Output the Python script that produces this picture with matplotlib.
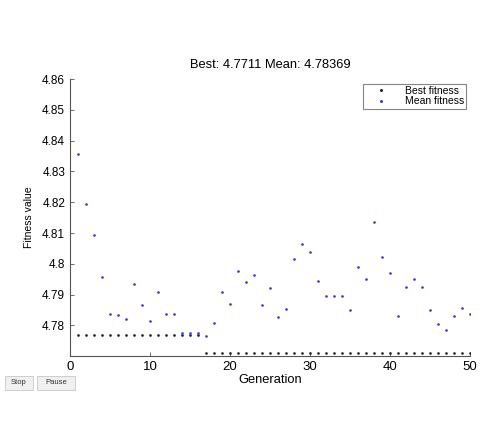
import matplotlib
matplotlib.use("Agg")
import matplotlib.pyplot as plt
from matplotlib.patches import Rectangle

generations = list(range(1, 51))
best_fitness = [4.7770] * 16 + [4.7711] * 34
mean_fitness = [
    4.8357, 4.8193, 4.8095, 4.7958, 4.7838, 4.7835, 4.7820, 4.7936, 4.7867, 4.7814,
    4.7909, 4.7838, 4.7838, 4.7777, 4.7777, 4.7777, 4.7767, 4.7807, 4.7909, 4.7870,
    4.7977, 4.7940, 4.7965, 4.7866, 4.7921, 4.7826, 4.7852, 4.8017, 4.8063, 4.8037,
    4.7943, 4.7897, 4.7897, 4.7897, 4.7851, 4.7991, 4.7950, 4.8135, 4.8023, 4.7970,
    4.7830, 4.7924, 4.7950, 4.7925, 4.7851, 4.7804, 4.7784, 4.7830, 4.7857, 4.78369,
]
title_text = "Best: 4.7711 Mean: 4.78369"
y_ticks = [4.78, 4.79, 4.80, 4.81, 4.82, 4.83, 4.84, 4.85, 4.86]
y_tick_labels = ["4.78", "4.79", "4.8", "4.81", "4.82", "4.83", "4.84", "4.85", "4.86"]
x_ticks = [0, 10, 20, 30, 40, 50]

plt.rcParams['font.family'] = ['Liberation Sans', 'DejaVu Sans']

fig = plt.figure(figsize=(4.8, 4.32), dpi=100)
fig.patch.set_facecolor('white')
ax = fig.add_axes([70/480, 1-356/432, 400/480, (356-79)/432])

ax.plot(generations, best_fitness, linestyle='none', marker='.', color='#222222',
        markersize=1.8, label='Best fitness')
ax.plot(generations, mean_fitness, linestyle='none', marker='.', color='#3a3ad0',
        markersize=1.8, label='Mean fitness')

ax.set_xlim(0, 50)
ax.set_ylim(4.7701, 4.86)
ax.set_xticks(x_ticks)
ax.set_yticks(y_ticks)
ax.set_yticklabels(y_tick_labels)
for s in ['top', 'right']:
    ax.spines[s].set_visible(False)
for s in ['left', 'bottom']:
    ax.spines[s].set_color('#555555')
    ax.spines[s].set_linewidth(0.8)
ax.tick_params(direction='in', length=3, width=0.6, colors='#555555',
               labelcolor='black', labelsize=8.5)
ax.tick_params(axis='x', labelsize=9.5)

ax.set_title(title_text, fontsize=9.3, pad=8)
ax.set_xlabel('Generation', fontsize=9.3, labelpad=1)
ax.set_ylabel('Fitness value', fontsize=7.5, labelpad=6)

leg = ax.legend(loc='upper right', bbox_to_anchor=(0.995, 0.99), fontsize=7.5,
                frameon=True, fancybox=False, markerscale=1.3, handlelength=3.0,
                borderpad=0.2, labelspacing=0.05, handletextpad=0.8,
                borderaxespad=0.2)
leg.get_frame().set_edgecolor('#666666')
leg.get_frame().set_linewidth(0.8)

for (x0, x1, label) in [(5, 33, 'Stop'), (37, 75, 'Pause')]:
    fig.patches.append(Rectangle((x0/480, 1-390/432), (x1-x0)/480, 14/432,
                                 transform=fig.transFigure, facecolor='#f0f0f0',
                                 edgecolor='#c8c8c8', linewidth=0.6))
    fig.text((x0+x1)/2/480, 1-383/432, label, fontsize=5.5, ha='center',
             va='center', color='#333333')

fig.savefig('out.png', dpi=100, facecolor='white')
